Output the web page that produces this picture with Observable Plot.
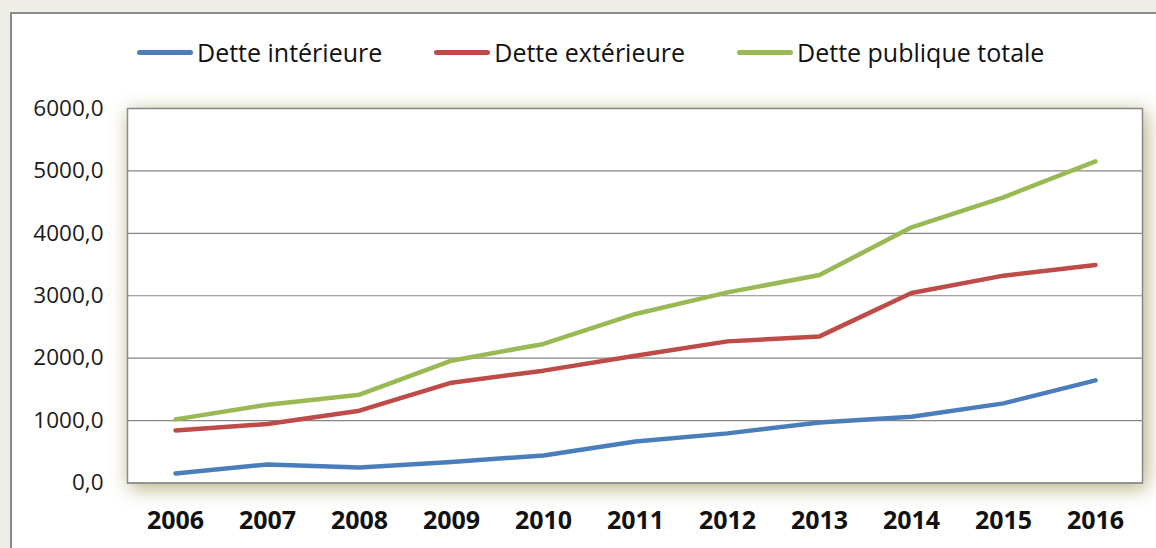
<!DOCTYPE html>
<html>
<head>
<meta charset="utf-8">
<script src="https://cdn.jsdelivr.net/npm/d3@7"></script>
<script src="https://cdn.jsdelivr.net/npm/@observablehq/plot@0.6"></script>
<style>
  html, body { margin: 0; padding: 0; width: 1156px; height: 548px; overflow: hidden; background: #efeee6; font-family: "Open Sans", sans-serif; }
  #sheet { position: absolute; left: 10px; top: 12px; width: 1200px; height: 600px; background: #ffffff; border: 2px solid #8a8a8a; box-sizing: border-box; }
  #legend { position: absolute; left: 137px; top: 35px; display: flex; gap: 52px; align-items: center; font-size: 25px; color: #111; white-space: nowrap; }
  .item { display: flex; align-items: center; }
  .swatch { display: inline-block; width: 56px; height: 5px; border-radius: 3px; margin-right: 4px; }
  #chart { position: absolute; left: 0; top: 80px; }
</style>
</head>
<body>
<div id="sheet"></div>
<div id="legend"></div>
<div id="chart"></div>
<script>
const years = [2006, 2007, 2008, 2009, 2010, 2011, 2012, 2013, 2014, 2015, 2016];
const detteInterieure = [154, 298, 250, 336, 442, 665, 795, 971, 1063, 1276, 1644];
const detteExterieure = [843, 946, 1159, 1607, 1800, 2040, 2269, 2349, 3045, 3322, 3494];
const detteTotale = [1019, 1255, 1415, 1960, 2228, 2708, 3054, 3333, 4096, 4577, 5154];
const seriesNames = ["Dette intérieure", "Dette extérieure", "Dette publique totale"];
const seriesColors = ["#4a7ebb", "#be4b48", "#98b954"];
const yTicks = [0, 1000, 2000, 3000, 4000, 5000, 6000];

const seriesValues = [detteInterieure, detteExterieure, detteTotale];
const data = [];
seriesNames.forEach((name, i) => {
  years.forEach((y, j) => data.push({series: name, year: String(y), value: seriesValues[i][j]}));
});

// Legend (HTML, above the SVG)
const legend = document.getElementById("legend");
seriesNames.forEach((name, i) => {
  const item = document.createElement("div");
  item.className = "item";
  const sw = document.createElement("span");
  sw.className = "swatch";
  sw.style.background = seriesColors[i];
  const t = document.createElement("span");
  t.textContent = name;
  item.appendChild(sw);
  item.appendChild(t);
  legend.appendChild(item);
});

const fmt = d => d.toFixed(1).replace(".", ",");

const chart = Plot.plot({
  width: 1156,
  height: 468,
  marginTop: 28,
  marginBottom: 65.5,
  marginLeft: 127,
  marginRight: 14,
  style: { fontFamily: "Open Sans, sans-serif", background: "transparent", color: "#1a1a1a", overflow: "visible" },
  x: { type: "point", domain: years.map(String), padding: 0.5, label: null },
  y: { domain: [0, 6000], label: null },
  color: { domain: seriesNames, range: seriesColors },
  marks: [
    Plot.frame({ fill: "white", stroke: "#8a8a8a", strokeWidth: 1.5 }),
    Plot.gridY(yTicks, { stroke: "#868686", strokeOpacity: 1, strokeWidth: 1.2 }),
    Plot.line(data, { x: "year", y: "value", z: "series", stroke: "series", strokeWidth: 4.5, strokeLinecap: "round", strokeLinejoin: "round" }),
    Plot.axisY(yTicks, { tickSize: 0, tickPadding: 24, tickFormat: fmt, fontSize: 22.5, fill: "#1a1a1a" }),
    Plot.axisX({ tickSize: 0, tickPadding: 28, fontSize: 25, fontWeight: "bold", fill: "#111" })
  ]
});
document.getElementById("chart").appendChild(chart);
const frame = chart.querySelector('[aria-label="frame"]');
if (frame) frame.style.filter = "drop-shadow(3px 4px 10px rgba(175, 168, 115, 0.95))";
</script>
</body>
</html>
